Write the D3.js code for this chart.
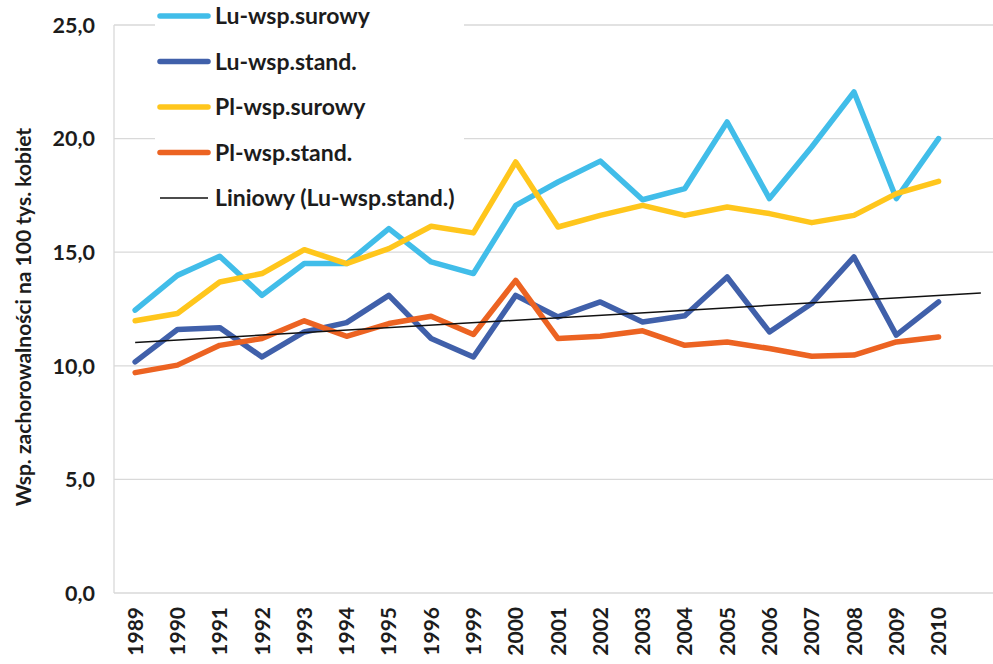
<!DOCTYPE html>
<html lang="pl">
<head>
<meta charset="utf-8">
<script src="https://cdn.jsdelivr.net/npm/d3@7/dist/d3.min.js"></script>
<style>
  html, body { margin: 0; padding: 0; background: #fff; }
  svg { display: block; font-family: Lato, "Open Sans", sans-serif; }
</style>
</head>
<body>
<svg id="chart" width="993" height="664"></svg>
<script>
// Lata (bez 1997 i 1998)
const years = ["1989","1990","1991","1992","1993","1994","1995","1996","1999","2000",
               "2001","2002","2003","2004","2005","2006","2007","2008","2009","2010"];

// Współczynniki zachorowalności na 100 tys. kobiet
const luSurowy = [12.45, 13.98, 14.82, 13.10, 14.50, 14.50, 16.04, 14.57, 14.06, 17.06,
                  18.09, 19.01, 17.31, 17.80, 20.73, 17.36, 19.63, 22.05, 17.36, 20.00];
const luStand  = [10.17, 11.60, 11.68, 10.39, 11.49, 11.90, 13.10, 11.20, 10.39, 13.10,
                  12.15, 12.81, 11.93, 12.20, 13.91, 11.49, 12.74, 14.79, 11.35, 12.81];
const plSurowy = [11.98, 12.30, 13.69, 14.06, 15.11, 14.50, 15.16, 16.14, 15.85, 18.97,
                  16.11, 16.62, 17.06, 16.62, 16.99, 16.70, 16.30, 16.62, 17.58, 18.12];
const plStand  = [ 9.70, 10.03, 10.90, 11.20, 11.98, 11.30, 11.86, 12.18, 11.38, 13.76,
                  11.20, 11.30, 11.54, 10.90, 11.05, 10.76, 10.42, 10.47, 11.05, 11.27];

const yTicks = [0, 5, 10, 15, 20, 25];

const seriesNames  = ["Lu-wsp.surowy", "Lu-wsp.stand.", "Pl-wsp.surowy", "Pl-wsp.stand."];
const seriesValues = [luSurowy, luStand, plSurowy, plStand];
const seriesColors = ["#41bde9", "#4060aa", "#ffc61c", "#ec6322"];
const trendName = "Liniowy (Lu-wsp.stand.)";

const svg = d3.select("#chart");
const textColor = "#1c1c1c";

const plot = { left: 114, right: 1002, top: 25, bottom: 593 };

// Oś kategorii: 20 lat + jeden okres prognozy linii trendu
const slots = d3.range(years.length + 1);
const x = d3.scalePoint().domain(slots).range([plot.left, plot.right]).padding(0.5);
const y = d3.scaleLinear().domain([0, 25]).range([plot.bottom, plot.top]);

// Siatka pozioma
svg.append("g")
  .selectAll("line")
  .data(yTicks.filter(t => t > 0))
  .join("line")
  .attr("x1", plot.left).attr("x2", plot.right)
  .attr("y1", d => y(d)).attr("y2", d => y(d))
  .attr("stroke", "#d9d9d9").attr("stroke-width", 1.3);

// Osie
svg.append("line")
  .attr("x1", plot.left).attr("x2", plot.left)
  .attr("y1", y(25)).attr("y2", y(0))
  .attr("stroke", "#d9d9d9").attr("stroke-width", 1.3);
svg.append("line")
  .attr("x1", plot.left).attr("x2", plot.right)
  .attr("y1", y(0)).attr("y2", y(0))
  .attr("stroke", "#d9d9d9").attr("stroke-width", 1.5);

// Etykiety osi Y
const fmt = d => d.toFixed(1).replace(".", ",");
svg.append("g")
  .selectAll("text")
  .data(yTicks)
  .join("text")
  .attr("x", 95).attr("y", d => y(d))
  .attr("dy", "0.36em")
  .attr("text-anchor", "end")
  .attr("font-size", 21.5).attr("font-weight", 700).attr("fill", textColor)
  .text(fmt);

// Etykiety osi X
svg.append("g")
  .selectAll("text")
  .data(years)
  .join("text")
  .attr("transform", (d, i) => `translate(${x(i)},607) rotate(-90)`)
  .attr("dy", "0.36em")
  .attr("text-anchor", "end")
  .attr("font-size", 21).attr("font-weight", 700).attr("fill", textColor)
  .text(d => d);

// Tytuł osi Y
svg.append("text")
  .attr("transform", "translate(23,317) rotate(-90)")
  .attr("dy", "0.36em")
  .attr("text-anchor", "middle")
  .attr("font-size", 21).attr("font-weight", 700).attr("fill", textColor)
  .text("Wsp. zachorowalności na 100 tys. kobiet");

// Serie danych
const line = d3.line().x((d, i) => x(i)).y(d => y(d));
seriesValues.forEach((vals, k) => {
  svg.append("path")
    .datum(vals)
    .attr("d", line)
    .attr("fill", "none")
    .attr("stroke", seriesColors[k])
    .attr("stroke-width", 5.5)
    .attr("stroke-linejoin", "round")
    .attr("stroke-linecap", "round");
});

// Linia trendu (regresja liniowa Lu-wsp.stand., prognoza o 1 okres)
const n = luStand.length;
const xs = d3.range(1, n + 1);
const mx = d3.mean(xs), my = d3.mean(luStand);
const slope = d3.sum(xs, (v, i) => (v - mx) * (luStand[i] - my)) / d3.sum(xs, v => (v - mx) ** 2);
const icpt = my - slope * mx;
const trend = [1, n + 1].map(t => ({ i: t - 1, v: icpt + slope * t }));
svg.append("path")
  .datum(trend)
  .attr("d", d3.line().x(d => x(d.i)).y(d => y(d.v)))
  .attr("fill", "none")
  .attr("stroke", "#111")
  .attr("stroke-width", 1.6);

// Legenda
const legend = svg.append("g");
legend.append("rect")
  .attr("x", 155).attr("y", 0).attr("width", 309).attr("height", 214)
  .attr("fill", "#fff");
const legendItems = seriesNames.map((s, k) => ({ name: s, color: seriesColors[k], w: 5.5 }))
  .concat([{ name: trendName, color: "#111", w: 1.6 }]);
const item = legend.selectAll("g.item")
  .data(legendItems)
  .join("g")
  .attr("class", "item")
  .attr("transform", (d, i) => `translate(0,${16 + i * 45.5})`);
item.append("line")
  .attr("x1", 160).attr("x2", 208)
  .attr("stroke", d => d.color)
  .attr("stroke-width", d => d.w)
  .attr("stroke-linecap", d => d.w > 2 ? "round" : "butt");
item.append("text")
  .attr("x", 215).attr("dy", "0.36em")
  .attr("font-size", 23).attr("font-weight", 700).attr("fill", textColor)
  .text(d => d.name);
</script>
</body>
</html>
